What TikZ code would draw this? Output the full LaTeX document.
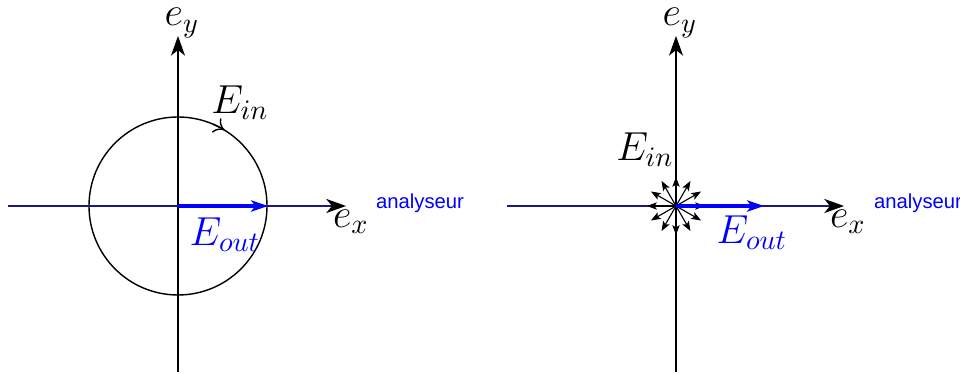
\documentclass[tikz,border=0pt]{standalone}
\usepackage{fontspec}
\newfontfamily\labfont{Liberation Sans}
\usetikzlibrary{arrows.meta}
\definecolor{axisblue}{rgb}{0.1,0.1,0.5}
\tikzset{
  axis/.style={line width=0.5pt,-{Stealth[length=7pt,width=5pt,inset=2pt]}},
  haxis/.style={line width=0.7pt,draw=axisblue,-{Stealth[length=7pt,width=5pt,inset=2pt,color=black,fill=black]}},
  eout/.style={line width=1.2pt,blue,-{Stealth[length=6pt,width=4pt,inset=1.5pt]}},
  star/.style={line width=0.4pt,-{Stealth[length=3.5pt,width=2.6pt,inset=0.8pt]}},
  mlab/.style={font=\fontsize{14.5}{17}\selectfont,inner sep=0pt},
  alab/.style={font=\labfont\fontsize{7.2}{9}\selectfont,text=blue,inner sep=0pt}
}
\begin{document}
\begin{tikzpicture}[x=0.0125cm,y=0.0125cm]
\useasboundingbox (0,0) rectangle (960,374);
% ---------- left ----------
\coordinate (O1) at (178,168);
\coordinate (b1) at (178,2);
\coordinate (t1) at (178,338);
\coordinate (l1) at (8,168);
\coordinate (r1) at (346,168);
\coordinate (o1e) at (268,168);
\draw[line width=0.5pt] (O1) circle[radius=89];
\draw[axis] (b1) -- (t1);
\draw[haxis] (l1) -- (r1);
\draw[eout] (O1) -- (o1e);
\draw[line width=0.5pt,-{To[length=3.5pt,width=6pt]}] ([shift={(67:89)}]O1) arc[start angle=67,end angle=58.5,radius=89];
\node[mlab] (ey1) at (182,351) {$e_y$};
\node[mlab] (ein1) at (240,271) {$E_{in}$};
\node[mlab,text=blue] (eo1) at (225,139) {$E_{out}$};
\node[mlab] (ex1) at (351,152) {$e_x$};
\node[alab] (an1) at (420,171) {analyseur};
% ---------- right ----------
\coordinate (O2) at (676,168);
\coordinate (b2) at (676,2);
\coordinate (t2) at (676,338);
\coordinate (l2) at (507,168);
\coordinate (r2) at (844,168);
\coordinate (o2e) at (764,168);
\draw[axis] (b2) -- (t2);
\draw[haxis] (l2) -- (r2);
\foreach \a in {30,60,...,360} {
  \draw[star] (O2) -- ++(\a:29);
}
\draw[eout] (O2) -- (o2e);
\node[mlab] (ey2) at (680,351) {$e_y$};
\node[mlab] (ein2) at (645,224) {$E_{in}$};
\node[mlab,text=blue] (eo2) at (752,141) {$E_{out}$};
\node[mlab] (ex2) at (848,152) {$e_x$};
\node[alab] (an2) at (918,171) {analyseur};
\end{tikzpicture}
\end{document}
